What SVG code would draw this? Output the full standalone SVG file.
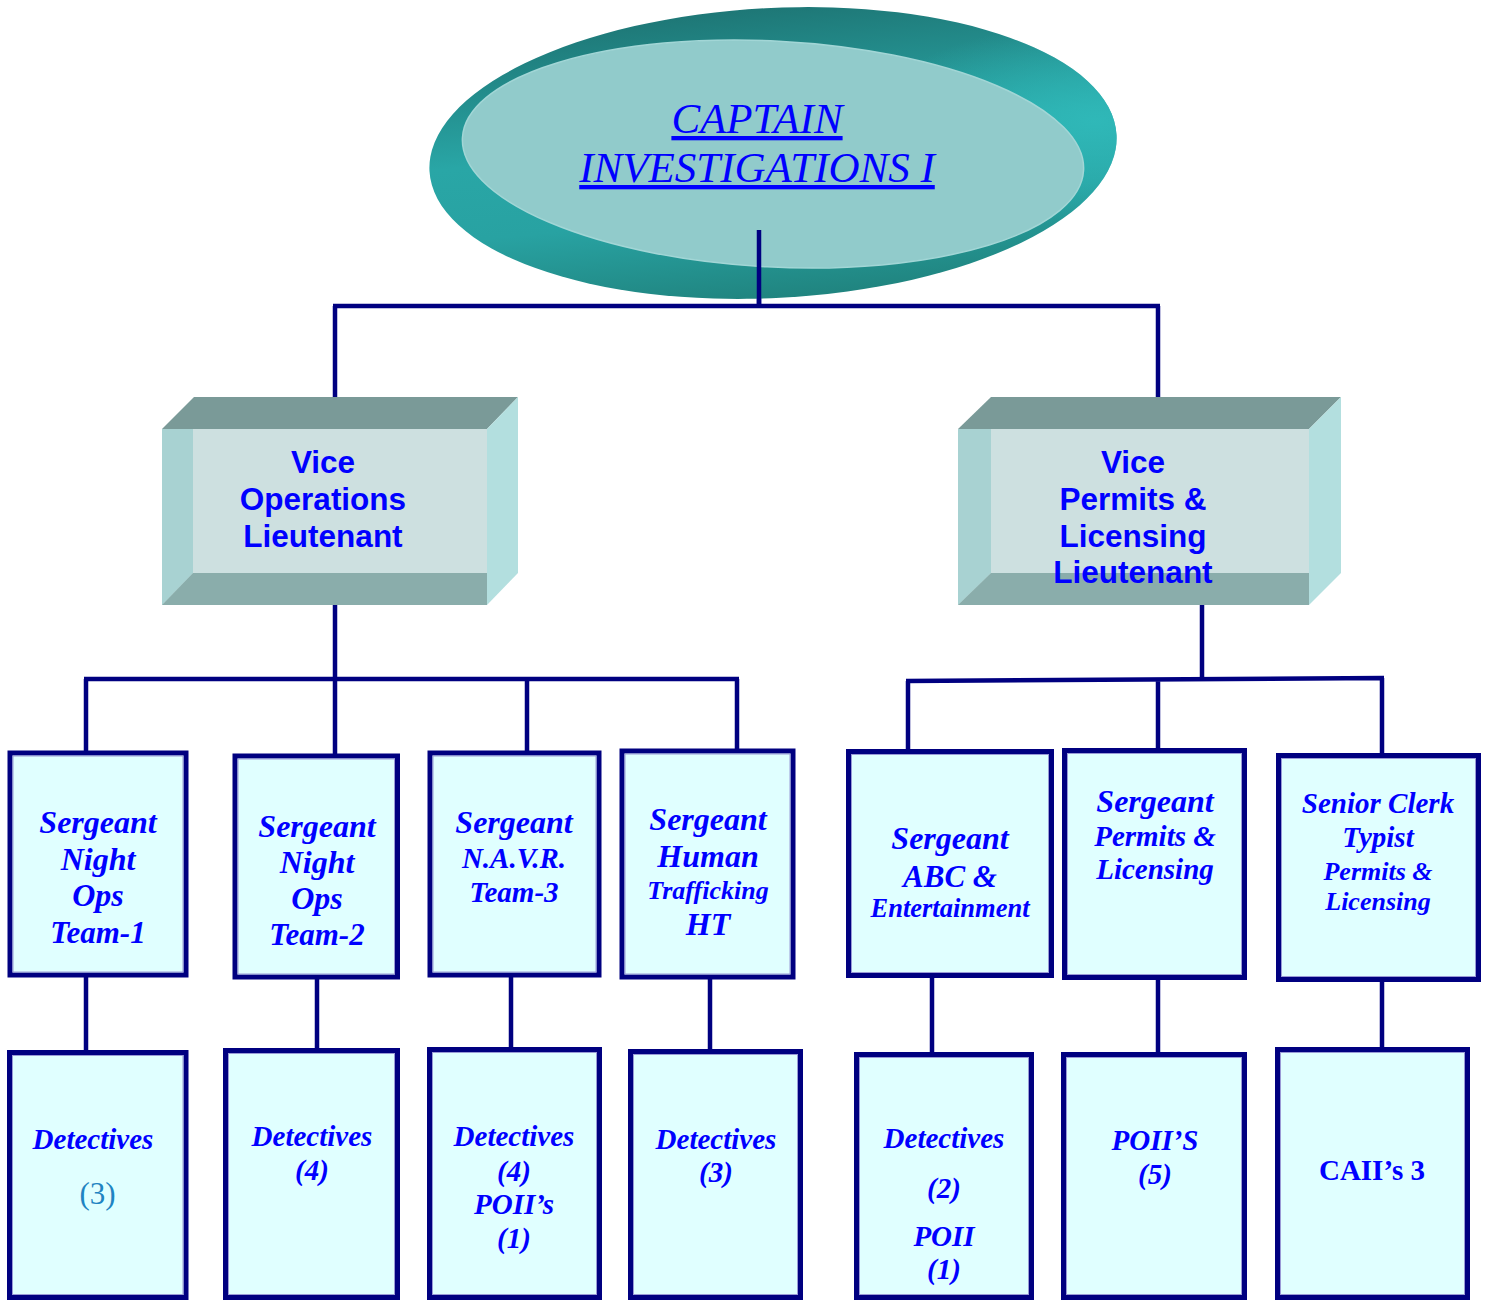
<svg xmlns="http://www.w3.org/2000/svg" width="1486" height="1301" viewBox="0 0 1486 1301">
<defs>
<linearGradient id="og" x1="0.45" y1="0" x2="0.55" y2="1">
<stop offset="0" stop-color="#1e7776"/>
<stop offset="0.45" stop-color="#29a6a6"/>
<stop offset="0.7" stop-color="#28a2a2"/>
<stop offset="1" stop-color="#20847f"/>
</linearGradient>
<radialGradient id="hl" cx="0.97" cy="0.45" r="0.35">
<stop offset="0" stop-color="#30baba" stop-opacity="0.9"/>
<stop offset="1" stop-color="#30baba" stop-opacity="0"/>
</radialGradient>
<style>
.ln{stroke:#000080;stroke-width:4.5;fill:none}
.bx{fill:#e0ffff;stroke:#000080;stroke-width:5}
.in{fill:none;stroke:#9a9ad6;stroke-width:1}
.cap{font-family:"Liberation Serif",serif;font-style:italic;font-size:43px;fill:#0000ff;text-anchor:middle;text-decoration:underline}
.lt{font-family:"Liberation Sans",Arial,sans-serif;font-weight:bold;font-size:31.5px;fill:#0000ff;text-anchor:middle}
.sg{font-family:"Liberation Serif",serif;font-weight:bold;font-style:italic;fill:#0000ff;text-anchor:middle}
.tf{fill:#7a9a98}.rf{fill:#b3dfdf}.ff{fill:#cde0e0}.lf{fill:#a8d2d2}.bf{fill:#8aadab}
</style>
</defs>

<g id="connectors">
<path class="ln" d="M759,230 V306 M333,306 H1160 M335,306 V398 M1158,306 V398"/>
<path class="ln" d="M335,605 V679 M84,679 H739 M86,679 V753 M335,679 V756 M527,679 V753 M737,679 V753"/>
<path class="ln" d="M1202,605 V680 M906,681 L1384,678 M908,681 V751 M1158,680 V750 M1382,678 V755"/>
<path class="ln" d="M86,975 V1052 M317,977 V1050 M511,975 V1049 M710,977 V1051 M932,975 V1054 M1158,977 V1054 M1382,979 V1049"/>
</g>

<g id="captain">
<ellipse cx="773" cy="153" rx="344" ry="145" transform="rotate(-3 773 153)" fill="url(#og)"/>
<ellipse cx="773" cy="153" rx="344" ry="145" transform="rotate(-3 773 153)" fill="url(#hl)"/>
<ellipse cx="773" cy="154" rx="311" ry="113" transform="rotate(3 773 154)" fill="#91cbcb" stroke="#a2d6d6" stroke-width="1.5"/>
<path class="ln" d="M759,230 V306"/>
<text class="cap" x="757" y="133">CAPTAIN</text>
<text class="cap" x="757" y="182">INVESTIGATIONS I</text>
</g>

<g id="lt-operations">
<polygon class="tf" points="162,429 194,397 518,397 487,429"/>
<polygon class="rf" points="487,429 518,397 518,573 487,605"/>
<rect class="ff" x="162" y="429" width="325" height="176"/>
<polygon class="lf" points="162,429 193,429 193,573 162,605"/>
<polygon class="bf" points="162,605 193,573 487,573 487,605"/>
<text class="lt" x="323" y="473">Vice</text>
<text class="lt" x="323" y="510">Operations</text>
<text class="lt" x="323" y="547">Lieutenant</text>
</g>

<g id="lt-permits">
<polygon class="tf" points="958,429 991,397 1341,397 1309,429"/>
<polygon class="rf" points="1309,429 1341,397 1341,573 1309,605"/>
<rect class="ff" x="958" y="429" width="351" height="176"/>
<polygon class="lf" points="958,429 991,429 991,573 958,605"/>
<polygon class="bf" points="958,605 991,573 1309,573 1309,605"/>
<text class="lt" x="1133" y="473">Vice</text>
<text class="lt" x="1133" y="510">Permits &amp;</text>
<text class="lt" x="1133" y="547">Licensing</text>
<text class="lt" x="1133" y="583">Lieutenant</text>
</g>

<g id="sgt-night1">
<rect class="bx" x="10" y="753" width="176" height="222"/>
<rect class="in" x="13" y="756" width="170" height="216"/>
<text class="sg" font-size="32" x="98" y="833">Sergeant</text>
<text class="sg" font-size="32" x="98" y="870">Night</text>
<text class="sg" font-size="32" x="98" y="906">Ops</text>
<text class="sg" font-size="31" x="98" y="943">Team-1</text>
</g>

<g id="sgt-night2">
<rect class="bx" x="235" y="756" width="162.5" height="221"/>
<rect class="in" x="238" y="759" width="156.5" height="215"/>
<text class="sg" font-size="32" x="317" y="837">Sergeant</text>
<text class="sg" font-size="32" x="317" y="873">Night</text>
<text class="sg" font-size="32" x="317" y="909">Ops</text>
<text class="sg" font-size="31" x="317" y="945">Team-2</text>
</g>

<g id="sgt-navr">
<rect class="bx" x="430" y="753" width="169" height="222"/>
<rect class="in" x="433" y="756" width="163" height="216"/>
<text class="sg" font-size="32" x="514" y="833">Sergeant</text>
<text class="sg" font-size="29" x="514" y="868">N.A.V.R.</text>
<text class="sg" font-size="29" x="514" y="902">Team-3</text>
</g>

<g id="sgt-ht">
<rect class="bx" x="622" y="751" width="171" height="226"/>
<rect class="in" x="625" y="754" width="165" height="220"/>
<text class="sg" font-size="32" x="708" y="830">Sergeant</text>
<text class="sg" font-size="32" x="708" y="867">Human</text>
<text class="sg" font-size="26" x="708" y="899">Trafficking</text>
<text class="sg" font-size="32" x="708" y="935">HT</text>
</g>

<g id="sgt-abc">
<rect class="bx" x="848.5" y="751.5" width="203" height="224"/>
<rect class="in" x="851.5" y="754.5" width="197" height="218"/>
<text class="sg" font-size="32" x="950" y="849">Sergeant</text>
<text class="sg" font-size="31" x="950" y="887">ABC &amp;</text>
<text class="sg" font-size="26.5" x="950" y="917">Entertainment</text>
</g>

<g id="sgt-permits">
<rect class="bx" x="1064.5" y="750.5" width="180" height="227"/>
<rect class="in" x="1067.5" y="753.5" width="174" height="221"/>
<text class="sg" font-size="32" x="1155" y="812">Sergeant</text>
<text class="sg" font-size="29" x="1155" y="846">Permits &amp;</text>
<text class="sg" font-size="29" x="1155" y="879">Licensing</text>
</g>

<g id="clerk">
<rect class="bx" x="1278.5" y="755.5" width="200" height="224"/>
<rect class="in" x="1281.5" y="758.5" width="194" height="218"/>
<text class="sg" font-size="29" x="1378" y="813">Senior Clerk</text>
<text class="sg" font-size="29" x="1378" y="847">Typist</text>
<text class="sg" font-size="26" x="1378" y="880">Permits &amp;</text>
<text class="sg" font-size="26" x="1378" y="910">Licensing</text>
</g>

<g id="det-1">
<rect class="bx" x="9.5" y="1052.5" width="176.5" height="245"/>
<rect class="in" x="12.5" y="1055.5" width="170.5" height="239"/>
<text class="sg" font-size="29" x="93" y="1149">Detectives</text>
<text x="97.5" y="1204" font-family="Liberation Serif, serif" font-size="31" fill="#1f84c2" text-anchor="middle">(3)</text>
</g>

<g id="det-2">
<rect class="bx" x="225.5" y="1050.5" width="172" height="247"/>
<rect class="in" x="228.5" y="1053.5" width="166" height="241"/>
<text class="sg" font-size="29" x="312" y="1146">Detectives</text>
<text class="sg" font-size="29" x="312" y="1180">(4)</text>
</g>

<g id="det-3">
<rect class="bx" x="429.5" y="1049.5" width="170" height="248"/>
<rect class="in" x="432.5" y="1052.5" width="164" height="242"/>
<text class="sg" font-size="29" x="514" y="1146">Detectives</text>
<text class="sg" font-size="29" x="514" y="1181">(4)</text>
<text class="sg" font-size="29" x="514" y="1214">POII’s</text>
<text class="sg" font-size="29" x="514" y="1248">(1)</text>
</g>

<g id="det-4">
<rect class="bx" x="630.5" y="1051.5" width="170" height="246"/>
<rect class="in" x="633.5" y="1054.5" width="164" height="240"/>
<text class="sg" font-size="29" x="716" y="1149">Detectives</text>
<text class="sg" font-size="29" x="716" y="1182">(3)</text>
</g>

<g id="det-5">
<rect class="bx" x="856.5" y="1054.5" width="175" height="243"/>
<rect class="in" x="859.5" y="1057.5" width="169" height="237"/>
<text class="sg" font-size="29" x="944" y="1148">Detectives</text>
<text class="sg" font-size="29" x="944" y="1198">(2)</text>
<text class="sg" font-size="29" x="944" y="1246">POII</text>
<text class="sg" font-size="29" x="944" y="1279">(1)</text>
</g>

<g id="poii">
<rect class="bx" x="1063.5" y="1054.5" width="181" height="243"/>
<rect class="in" x="1066.5" y="1057.5" width="175" height="237"/>
<text class="sg" font-size="29" x="1155" y="1150">POII’S</text>
<text class="sg" font-size="29" x="1155" y="1184">(5)</text>
</g>

<g id="caii">
<rect class="bx" x="1277.5" y="1049.5" width="190" height="248"/>
<rect class="in" x="1280.5" y="1052.5" width="184" height="242"/>
<text x="1372" y="1180" font-family="Liberation Serif, serif" font-weight="bold" font-size="29" fill="#0000ff" text-anchor="middle">CAII’s 3</text>
</g>
</svg>
